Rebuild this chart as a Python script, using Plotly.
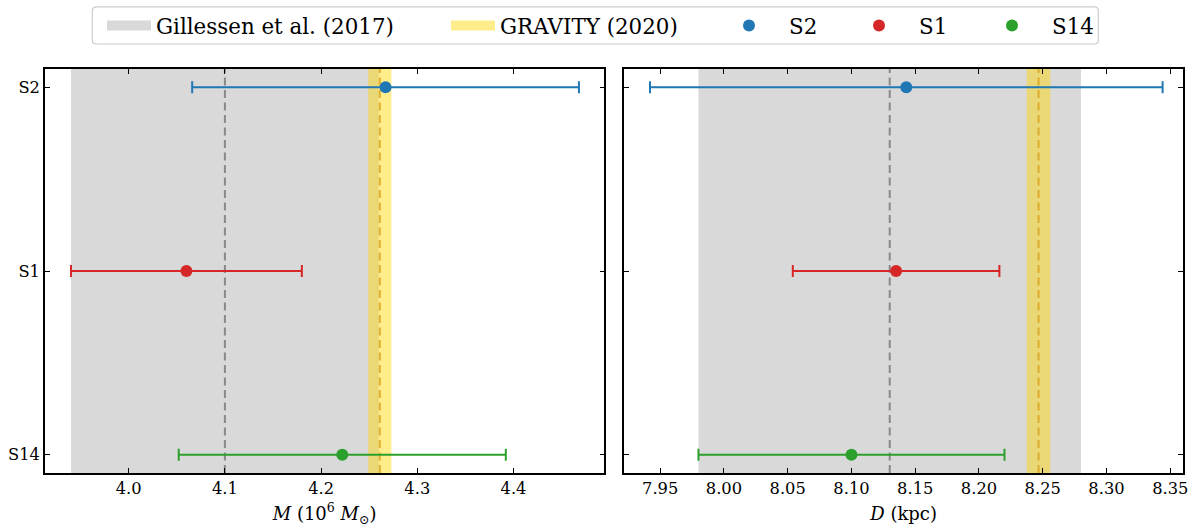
import plotly.graph_objects as go
from plotly.subplots import make_subplots

# ---------------- data ----------------
stars = ["S2", "S1", "S14"]
star_colors = ["#1f77b4", "#d62728", "#2ca02c"]
mass_val = [4.267, 4.060, 4.222]
mass_err = [0.201, 0.120, 0.170]
dist_val = [8.143, 8.135, 8.100]
dist_err = [0.201, 0.081, 0.120]

gill_label = "Gillessen et al. (2017)"
gill_mass, gill_mass_err = 4.10, 0.16
gill_dist, gill_dist_err = 8.13, 0.15

grav_label = "GRAVITY (2020)"
grav_mass, grav_mass_err = 4.261, 0.012
grav_dist, grav_dist_err = 8.2467, 0.0093

mass_ticks = [4.0, 4.1, 4.2, 4.3, 4.4]
dist_ticks = [7.95, 8.00, 8.05, 8.10, 8.15, 8.20, 8.25, 8.30, 8.35]

# ---------------- styling ----------------
W, H = 1203, 528
ML, MR, MT, MB = 44.7, 20.3, 69, 55.3
FONT = "DejaVu Serif"
GRAY_BAND = "rgba(128,128,128,0.30)"
GOLD_BAND = "rgba(255,215,0,0.45)"

fig = make_subplots(rows=1, cols=2, shared_yaxes=False, horizontal_spacing=0.0175)
fig.update_layout(
    xaxis=dict(domain=[0, 0.4915]),
    xaxis2=dict(domain=[0.509, 1.0]),
)

panels = [
    (1, "x", "y domain", mass_val, mass_err, gill_mass, gill_mass_err, grav_mass, grav_mass_err),
    (2, "x2", "y2 domain", dist_val, dist_err, gill_dist, gill_dist_err, grav_dist, grav_dist_err),
]

for col, xr, yr, vals, errs, gc, ge, vc, ve in panels:
    first = col == 1
    # reference bands
    fig.add_shape(type="rect", xref=xr, yref=yr, x0=gc - ge, x1=gc + ge, y0=0, y1=1,
                  fillcolor=GRAY_BAND, line=dict(width=0), layer="below")
    fig.add_shape(type="rect", xref=xr, yref=yr, x0=vc - ve, x1=vc + ve, y0=0, y1=1,
                  fillcolor=GOLD_BAND, line=dict(width=0), layer="below")
    # central dashed lines
    fig.add_shape(type="line", xref=xr, yref=yr, x0=gc, x1=gc, y0=0, y1=1, layer="below",
                  line=dict(color="rgba(110,110,110,0.75)", width=2, dash="8px,4.5px"))
    fig.add_shape(type="line", xref=xr, yref=yr, x0=vc, x1=vc, y0=0, y1=1, layer="below",
                  line=dict(color="rgba(218,165,32,0.85)", width=2, dash="8px,4.5px"))
    # stars with error bars
    for i, s in enumerate(stars):
        fig.add_trace(go.Scatter(
            x=[vals[i]], y=[s], mode="markers", name=s,
            marker=dict(color=star_colors[i], size=12),
            error_x=dict(type="data", array=[errs[i]], color=star_colors[i],
                         thickness=2, width=6),
            showlegend=first, legend=f"legend{i + 3}",
        ), row=1, col=col)

# legend entries for the two reference bands
fig.add_trace(go.Scatter(x=[None], y=[None], mode="lines", name=gill_label,
                         line=dict(color=GRAY_BAND, width=16), legend="legend",
                         showlegend=True, hoverinfo="skip"), row=1, col=1)
fig.add_trace(go.Scatter(x=[None], y=[None], mode="lines", name=grav_label,
                         line=dict(color=GOLD_BAND, width=16), legend="legend2",
                         showlegend=True, hoverinfo="skip"), row=1, col=1)

axis_common = dict(
    showline=True, linecolor="black", linewidth=1.5, mirror="allticks",
    ticks="inside", ticklen=5, tickwidth=1.3, tickcolor="black",
    showgrid=False, zeroline=False, automargin=False,
    tickfont=dict(family=FONT, size=16.3, color="black"),
)

fig.update_xaxes(**axis_common)
fig.update_yaxes(**axis_common)
fig.update_xaxes(row=1, col=1, range=[3.913, 4.4944], tickvals=mass_ticks,
                 tickformat=".1f",
                 title=dict(text="<i>M</i> (10<sup>6</sup> <i>M</i><sub>⊙</sub>)",
                            font=dict(family=FONT, size=18, color="black"), standoff=10))
fig.update_xaxes(row=1, col=2, range=[7.9218, 8.36], tickvals=dist_ticks,
                 tickformat=".2f",
                 title=dict(text="<i>D</i> (kpc)",
                            font=dict(family=FONT, size=18, color="black"), standoff=10))
fig.update_yaxes(type="category", categoryorder="array", categoryarray=stars,
                 range=[2.1, -0.1])
fig.update_yaxes(row=1, col=2, showticklabels=False)

# ---------------- legend ----------------
leg_common = dict(orientation="h", xref="container", yref="container",
                  xanchor="left", yanchor="middle", bgcolor="rgba(0,0,0,0)",
                  borderwidth=0, font=dict(family=FONT, size=21.4, color="black"))
leg_pos = [(102, 44), (446, 44), (709, 70), (839, 70), (972, 70)]
legends = {}
for k, (lx, iw) in enumerate(leg_pos):
    key = "legend" if k == 0 else f"legend{k + 1}"
    legends[key] = dict(leg_common, x=lx / W, y=1 - 25.5 / H, itemwidth=iw)

# legend frame (rounded rectangle) in paper coords
pw, ph = W - ML - MR, H - MT - MB
def px(xp):
    return (xp - ML) / pw
def py(yp):
    return 1 + (MT - yp) / ph
x0f, x1f, y0f, y1f, r = 92, 1098, 7, 44, 4
frame = (f"M {px(x0f + r)} {py(y0f)} L {px(x1f - r)} {py(y0f)} "
         f"Q {px(x1f)} {py(y0f)} {px(x1f)} {py(y0f + r)} L {px(x1f)} {py(y1f - r)} "
         f"Q {px(x1f)} {py(y1f)} {px(x1f - r)} {py(y1f)} L {px(x0f + r)} {py(y1f)} "
         f"Q {px(x0f)} {py(y1f)} {px(x0f)} {py(y1f - r)} L {px(x0f)} {py(y0f + r)} "
         f"Q {px(x0f)} {py(y0f)} {px(x0f + r)} {py(y0f)} Z")
fig.add_shape(type="path", xref="paper", yref="paper", path=frame,
              line=dict(color="#cccccc", width=1.2), fillcolor="rgba(255,255,255,0.8)",
              layer="below")

fig.update_layout(
    width=W, height=H, showlegend=True,
    margin=dict(l=ML, r=MR, t=MT, b=MB, pad=0, autoexpand=False),
    plot_bgcolor="white", paper_bgcolor="white",
    font=dict(family=FONT, color="black"),
    **legends,
)

fig.write_html("out.html")
